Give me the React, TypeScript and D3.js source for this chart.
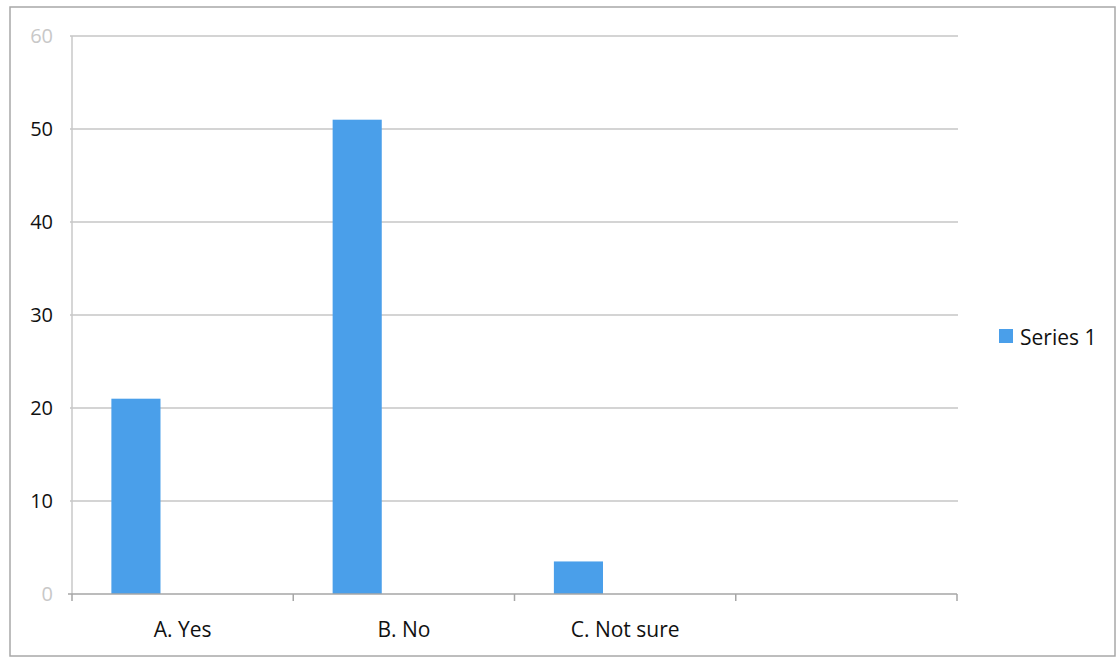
import React from "react";
import * as d3 from "d3";

const categories = ["A. Yes", "B. No", "C. Not sure", ""];
const series1 = [21, 51, 3.5, null];
const yTicks = [0, 10, 20, 30, 40, 50, 60];
const seriesName = "Series 1";

const W = 1117;
const H = 658;
const M = { left: 72, right: 957, top: 36, bottom: 594 };
const FONT = "'Open Sans', Lato, sans-serif";

export default function App() {
  const x = d3.scaleBand<string>().domain(categories.map((c, i) => i + "")).range([M.left, M.right]).padding(0);
  const y = d3.scaleLinear().domain([0, 60]).range([M.bottom, M.top]);
  const bw = x.bandwidth();
  const boundaries = categories.map((_, i) => x(i + "")!).concat([M.right]);

  return (
    <svg width={W} height={H} style={{ position: "absolute", left: 0, top: 0, background: "#fff" }}>
      <rect x={10} y={7} width={1105} height={649} fill="none" stroke="#a8a8a8" strokeWidth={1.5} />
      {yTicks.map((t) => (
        <g key={t}>
          {t > 0 && (
            <line x1={M.left - 2} x2={M.right + 1} y1={y(t)} y2={y(t)} stroke="#c6c6c6" strokeWidth={1.5} />
          )}
          <text
            x={53}
            y={y(t)}
            dy="0.36em"
            textAnchor="end"
            fontFamily={FONT}
            fontSize={20}
            fill={t === 0 || t === 60 ? "#c8c8c8" : "#111"}
          >
            {t}
          </text>
        </g>
      ))}
      <line x1={M.left} x2={M.left} y1={M.top} y2={M.bottom} stroke="#c8c8c8" strokeWidth={1.5} />
      {series1.map((v, i) =>
        v == null ? null : (
          <rect
            key={i}
            x={x(i + "")! + bw * 0.178}
            width={bw * 0.222}
            y={y(v)}
            height={y(0) - y(v)}
            fill="#4a9fea"
          />
        )
      )}
      <line x1={M.left - 4} x2={M.right} y1={M.bottom} y2={M.bottom} stroke="#a6a6a6" strokeWidth={1.5} />
      {boundaries.map((bx, i) => (
        <line key={i} x1={bx} x2={bx} y1={M.bottom} y2={M.bottom + 7} stroke="#a6a6a6" strokeWidth={1.5} />
      ))}
      {categories.map((c, i) => (
        <text
          key={i}
          x={x(i + "")! + bw / 2}
          y={637}
          textAnchor="middle"
          fontFamily={FONT}
          fontSize={21}
          fill="#111"
        >
          {c}
        </text>
      ))}
      <rect x={999} y={329} width={14} height={14} fill="#4a9fea" />
      <text x={1020} y={345} fontFamily={FONT} fontSize={21} fill="#111">
        {seriesName}
      </text>
    </svg>
  );
}
